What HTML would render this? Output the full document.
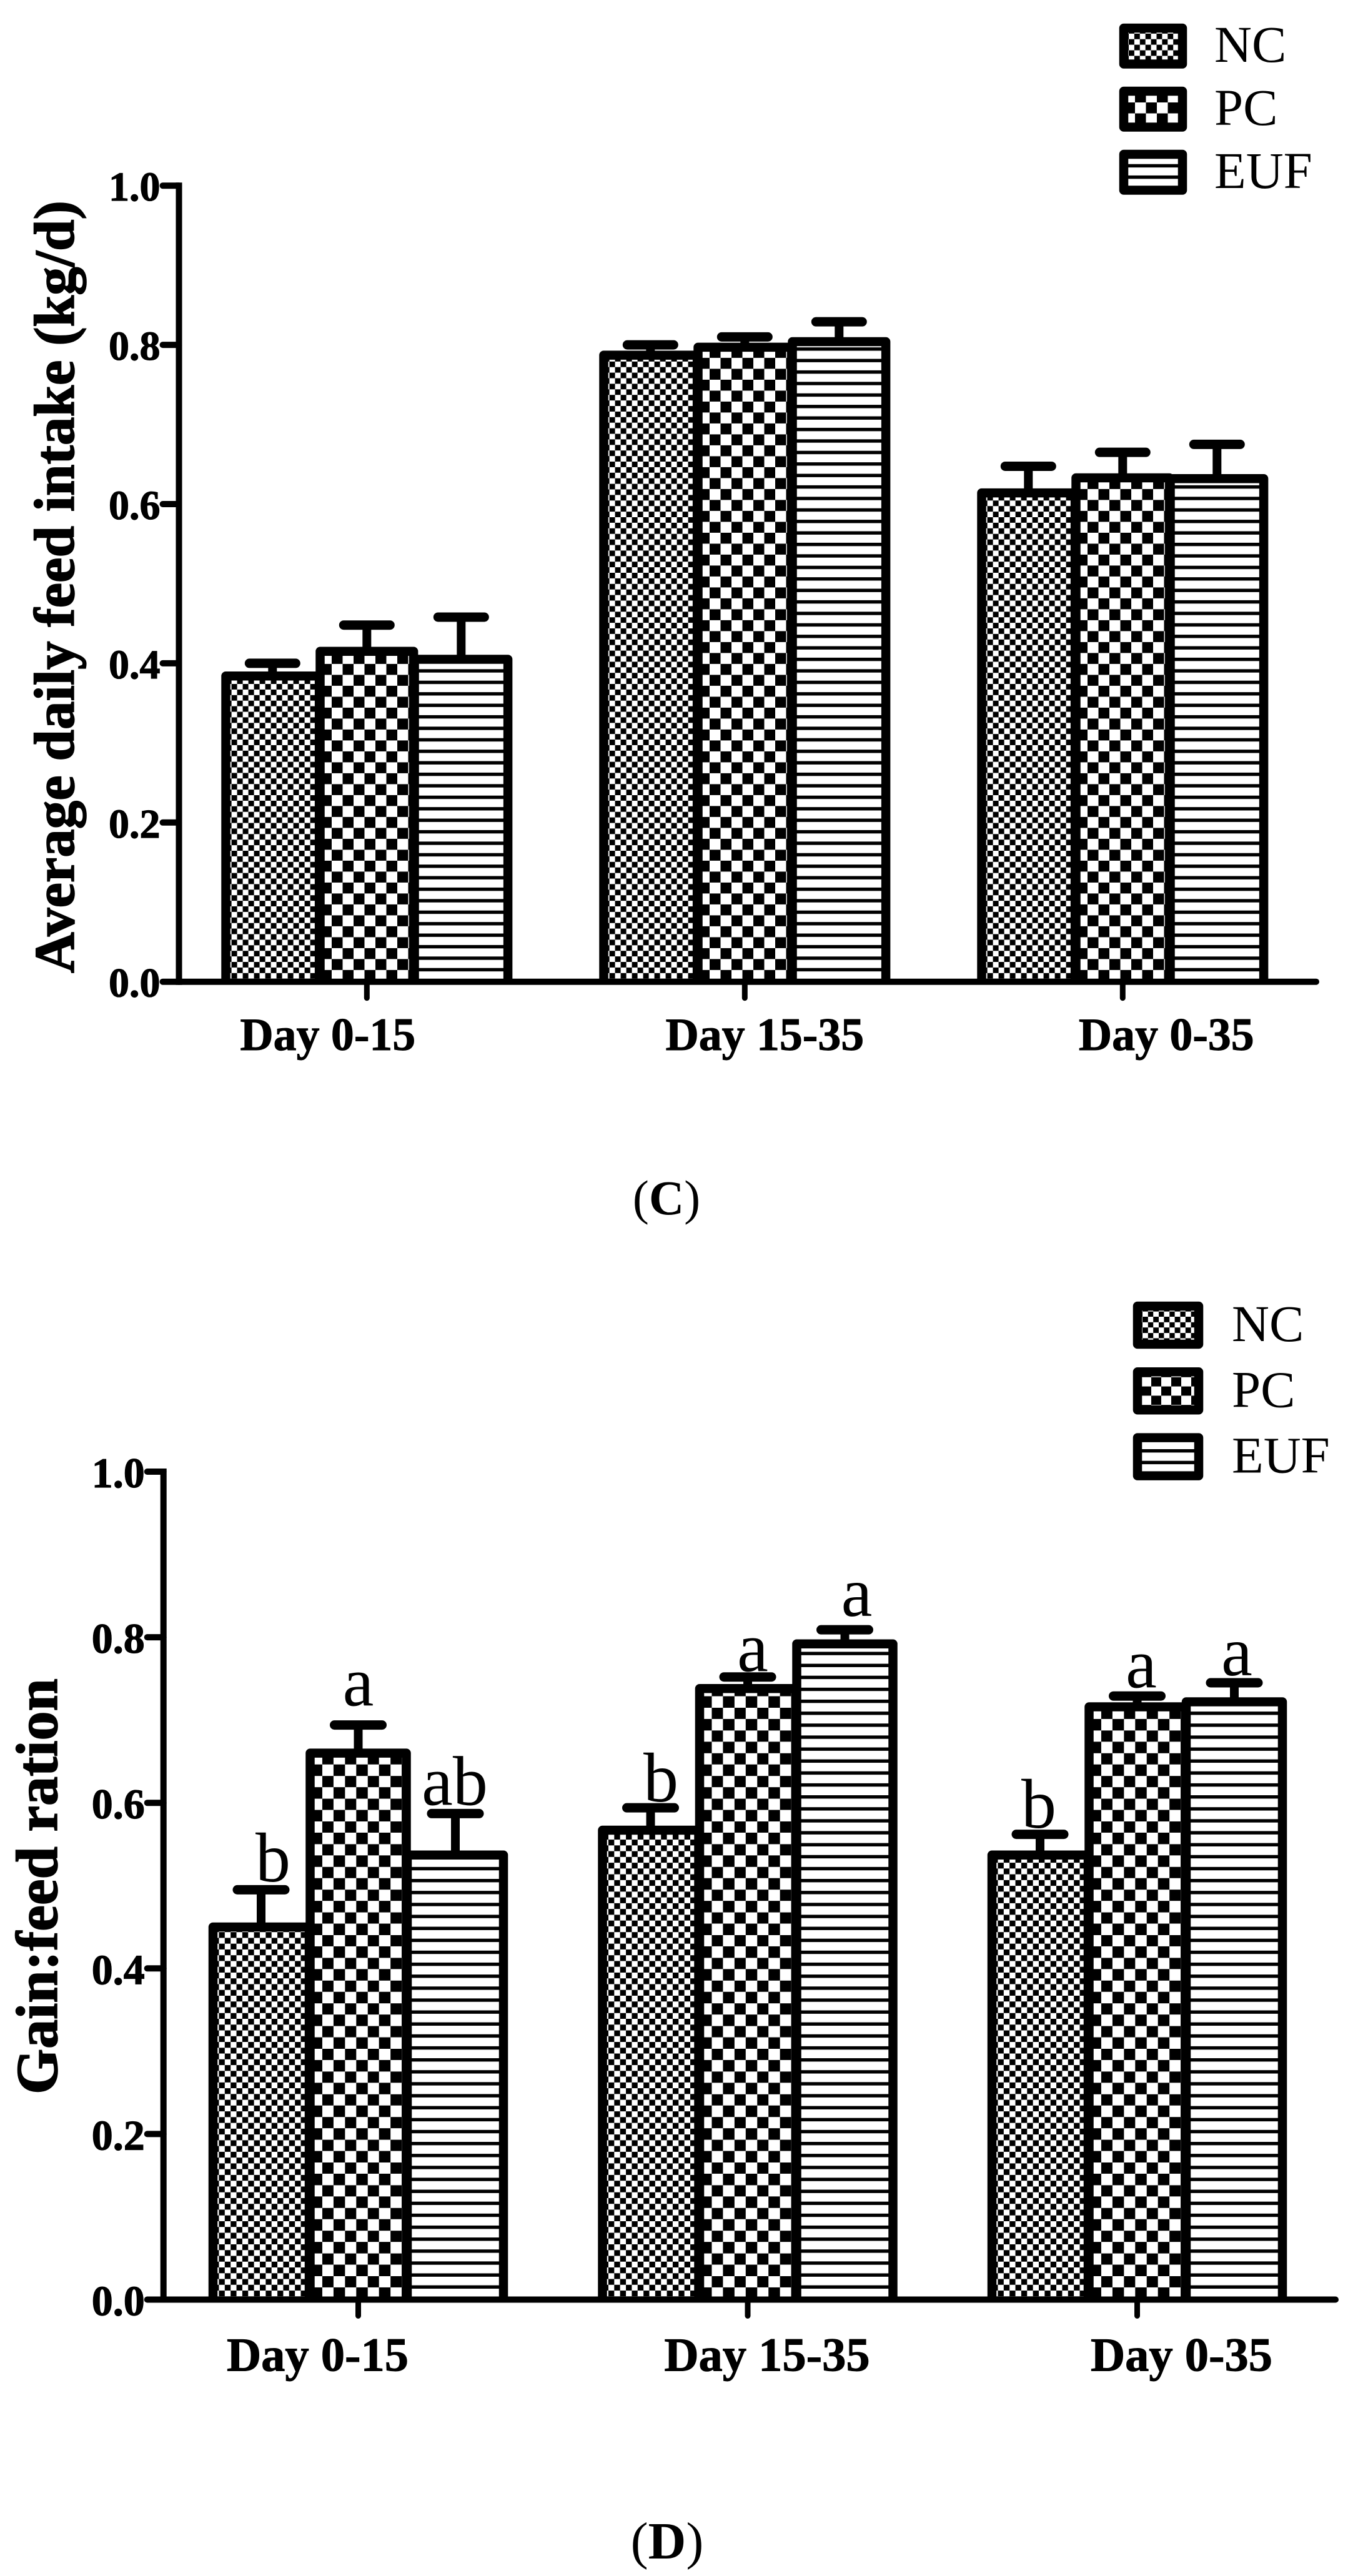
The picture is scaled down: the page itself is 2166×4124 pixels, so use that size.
<!DOCTYPE html>
<html lang="en">
<head>
<meta charset="utf-8">
<title>Average daily feed intake and gain:feed ration</title>
<style>
  html, body { margin: 0; padding: 0; background: #fff; }
  svg { display: block; font-family: "Liberation Serif", "Times New Roman", serif; }
</style>
</head>
<body>
<svg id="figure" xmlns="http://www.w3.org/2000/svg" width="2166" height="4124" viewBox="0 0 2166 4124">
  <rect x="0" y="0" width="2166" height="4124" fill="#fff"/>
  <defs id="defs"></defs>
</svg>
<script>
// ---- chart data ----
const categories = ["Day 0-15", "Day 15-35", "Day 0-35"];
const seriesNames = ["NC", "PC", "EUF"];
const tickValues = [0, 0.2, 0.4, 0.6, 0.8, 1.0];
const tickLabels = ["0.0", "0.2", "0.4", "0.6", "0.8", "1.0"];

const intakeNC = [0.384, 0.787, 0.614];
const intakePC = [0.415, 0.797, 0.633];
const intakeEUF = [0.405, 0.804, 0.632];
const intakeUpperNC = [0.400, 0.800, 0.6475];
const intakeUpperPC = [0.448, 0.810, 0.665];
const intakeUpperEUF = [0.458, 0.829, 0.675];

const gainNC = [0.450, 0.567, 0.537];
const gainPC = [0.660, 0.738, 0.716];
const gainEUF = [0.537, 0.792, 0.722];
const gainUpperNC = [0.495, 0.594, 0.562];
const gainUpperPC = [0.694, 0.752, 0.729];
const gainUpperEUF = [0.587, 0.809, 0.745];
const gainLettersNC = ["b", "b", "b"];
const gainLettersPC = ["a", "a", "a"];
const gainLettersEUF = ["ab", "a", "a"];

const intakeTitle = "Average daily feed intake (kg/d)";
const gainTitle = "Gain:feed ration";

// ---- drawing ----
const NS = "http://www.w3.org/2000/svg";
const svg = document.getElementById("figure");
const defs = document.getElementById("defs");
let patternCount = 0;

function make(tag, attrs, parent) {
  const node = document.createElementNS(NS, tag);
  for (const key in attrs) node.setAttribute(key, attrs[key]);
  (parent || svg).appendChild(node);
  return node;
}

function checkerPattern(ox, oy, cw, ch) {
  const id = "fill-" + (patternCount++);
  const p = make("pattern", { id, patternUnits: "userSpaceOnUse", x: ox, y: oy, width: 2 * cw, height: 2 * ch }, defs);
  make("rect", { x: 0, y: 0, width: 2 * cw, height: 2 * ch, fill: "#fff" }, p);
  make("rect", { x: 0, y: 0, width: cw, height: ch, fill: "#000", "shape-rendering": "crispEdges" }, p);
  make("rect", { x: cw, y: ch, width: cw, height: ch, fill: "#000", "shape-rendering": "crispEdges" }, p);
  return "url(#" + id + ")";
}

function stripePattern(oy, period, line) {
  const id = "fill-" + (patternCount++);
  const p = make("pattern", { id, patternUnits: "userSpaceOnUse", x: 0, y: oy, width: 50, height: period }, defs);
  make("rect", { x: 0, y: 0, width: 50, height: period, fill: "#fff" }, p);
  make("rect", { x: 0, y: 0, width: 50, height: line, fill: "#000" }, p);
  return "url(#" + id + ")";
}

function drawPanel(panel) {
  const yScale = v => panel.base - v * panel.span;
  const groupX = g => panel.x0 + g * panel.step;
  const barX = (g, s) => groupX(g) + (s - 1) * panel.pitch;
  const k = panel.k;

  // bars and error bars (later series overlap earlier ones)
  panel.values.forEach((vals, s) => {
    categories.forEach((cat, g) => {
      const cx = barX(g, s);
      const left = cx - panel.barW / 2;
      const right = cx + panel.barW / 2;
      const top = yScale(vals[g]);
      const capY = yScale(panel.upper[s][g]);
      const slug = seriesNames[s].toLowerCase() + "-" + (g + 1);

      const stem = make("line", { x1: cx, x2: cx, y1: capY, y2: top, stroke: "#000", "stroke-width": 14 });
      
      

      const cap = make("line", { x1: cx - panel.capHalf, x2: cx + panel.capHalf, y1: capY, y2: capY, stroke: "#000", "stroke-width": 15, "stroke-linecap": "round" });
      
      

      let fill;
      if (s === 0) fill = checkerPattern(left + 9.1 * k, panel.base - 13.9 * k, 9 * k, 8.9 * k);
      else if (s === 1) fill = checkerPattern(left + 1, panel.base - 18.8 * k, 17.5 * k, 17.5 * k);
      else fill = stripePattern(panel.base - 22 * k, 18.4 * k, 5.4);

      const bar = make("path", {
        d: "M" + left + " " + panel.base + "V" + top + "H" + right + "V" + panel.base,
        fill, stroke: "#000", "stroke-width": panel.barStroke, "stroke-linejoin": "round"
      });
      
      
    });
  });

  // significance letters
  if (panel.letters) {
    panel.letters.forEach((row, s) => {
      row.forEach((letter, g) => {
        const nudge = panel.letterNudge[s][g];
        const t = make("text", {
          x: barX(g, s) + nudge[0],
          y: yScale(panel.upper[s][g]) - nudge[1],
          "text-anchor": "middle", "font-size": panel.letterSize, fill: "#000"
        });
        t.textContent = letter;
        
        
      });
    });
  }

  // y axis
  const yAxis = make("line", { x1: panel.axisX, x2: panel.axisX, y1: yScale(1) - 5, y2: panel.base + 5, stroke: "#000", "stroke-width": 10 });
  
  

  tickValues.forEach((v, i) => {
    const tick = make("line", { x1: panel.axisX - panel.tickLen, x2: panel.axisX, y1: yScale(v), y2: yScale(v), stroke: "#000", "stroke-width": 10, "stroke-linecap": "round" });
    
    

    const label = make("text", {
      x: panel.axisX - panel.tickLen - 4, y: yScale(v) + panel.tickBaseline,
      "text-anchor": "end", "font-size": panel.tickFont, "font-weight": "bold", fill: "#000",
      stroke: "#000", "stroke-width": 1.2
    });
    label.textContent = tickLabels[i];
    
    
  });

  // x axis
  const xAxis = make("line", { x1: panel.axisX, x2: panel.axisEnd, y1: panel.base, y2: panel.base, stroke: "#000", "stroke-width": 10, "stroke-linecap": "round" });
  
  

  categories.forEach((cat, g) => {
    const tick = make("line", { x1: groupX(g), x2: groupX(g), y1: panel.base, y2: panel.base + 26, stroke: "#000", "stroke-width": 9, "stroke-linecap": "round" });
    
    

    const label = make("text", {
      x: groupX(g) + panel.xLabelShift[g], y: panel.xLabelY,
      "text-anchor": "middle", "font-size": panel.xFont, "font-weight": "bold", fill: "#000",
      stroke: "#000", "stroke-width": 1
    });
    label.textContent = cat;
    
    
  });

  // y title
  const title = make("text", {
    transform: "translate(" + panel.titleX + " " + panel.titleY + ") rotate(-90)",
    "font-size": panel.titleFont, "font-weight": "bold", fill: "#000",
    stroke: "#000", "stroke-width": 1.6
  });
  title.textContent = panel.title;
  
  

  // legend
  seriesNames.forEach((name, s) => {
    const lg = panel.legend;
    const top = lg.top + s * lg.step;
    let fill;
    if (s === 0) fill = checkerPattern(lg.ncX, lg.ncY, lg.ncW, lg.ncW);
    else if (s === 1) fill = checkerPattern(lg.pcX, lg.pcY, lg.pcW, lg.pcH);
    else fill = stripePattern(lg.eufY, lg.eufP, 5.4);

    const box = make("rect", {
      x: lg.left + 7, y: top + 7, width: lg.w - 14, height: lg.h - 14,
      fill, stroke: "#000", "stroke-width": 14.5, "stroke-linejoin": "round"
    });
    
    

    const txt = make("text", { x: lg.textX, y: top + lg.textDy, "font-size": lg.font, fill: "#000" });
    txt.textContent = name;
    
    
  });

  // panel caption
  const cap = make("text", { x: panel.captionX, y: panel.captionY, "text-anchor": "middle", "font-size": panel.captionFont, fill: "#000" });
  const open = make("tspan", {}, cap);
  open.textContent = "(";
  const letter = make("tspan", { "font-weight": "bold" }, cap);
  letter.textContent = panel.caption;
  const close = make("tspan", {}, cap);
  close.textContent = ")";
  
  
}

drawPanel({
  id: "c", k: 1, title: intakeTitle, caption: "C",
  values: [intakeNC, intakePC, intakeEUF],
  upper: [intakeUpperNC, intakeUpperPC, intakeUpperEUF],
  base: 1571.7, span: 1274.5, x0: 587.3, step: 605, pitch: 151, barW: 149.6, barStroke: 14.5, capHalf: 37,
  axisX: 286.5, axisEnd: 2107, tickLen: 26, tickBaseline: 24, tickFont: 66,
  xLabelShift: [-62.5, 32, 70], xLabelY: 1681, xFont: 73.8,
  titleX: 118, titleY: 1558, titleFont: 91,
  captionX: 1067, captionY: 1944, captionFont: 78,
  legend: { left: 1792, top: 38, step: 101, w: 108, h: 71.5, textX: 1944, textDy: 61, font: 83,
    ncX: 1807, ncY: 62.7, ncW: 8.9, pcX: 1799.5, pcY: 164, pcW: 17.5, pcH: 17.5, eufY: 262.7, eufP: 18.2 }
});

drawPanel({
  id: "d", k: 1.04, title: gainTitle, caption: "D",
  values: [gainNC, gainPC, gainEUF],
  upper: [gainUpperNC, gainUpperPC, gainUpperEUF],
  letters: [gainLettersNC, gainLettersPC, gainLettersEUF],
  letterSize: 112,
  letterNudge: [
    [[19, 13.6], [16.5, 10], [-2, 10.5]],
    [[0, 31], [8, 9], [6.5, 13.5]],
    [[-1, 14], [19, 22], [4, 12]]
  ],
  base: 3681.5, span: 1325.5, x0: 573.5, step: 623.5, pitch: 155.5, barW: 154, barStroke: 14.5, capHalf: 38,
  axisX: 261.7, axisEnd: 2138, tickLen: 26, tickBaseline: 25, tickFont: 68,
  xLabelShift: [-65, 31, 71], xLabelY: 3795.6, xFont: 76.5,
  titleX: 91, titleY: 3353, titleFont: 94,
  captionX: 1068, captionY: 4096, captionFont: 84,
  legend: { left: 1814, top: 2084, step: 105.3, w: 112, h: 75, textX: 1972, textDy: 63, font: 83,
    ncX: 1829, ncY: 2108, ncW: 8.6, pcX: 1827, pcY: 2219.6, pcW: 16, pcH: 14.8, eufY: 2320, eufP: 18.7 }
});
</script>
</body>
</html>
